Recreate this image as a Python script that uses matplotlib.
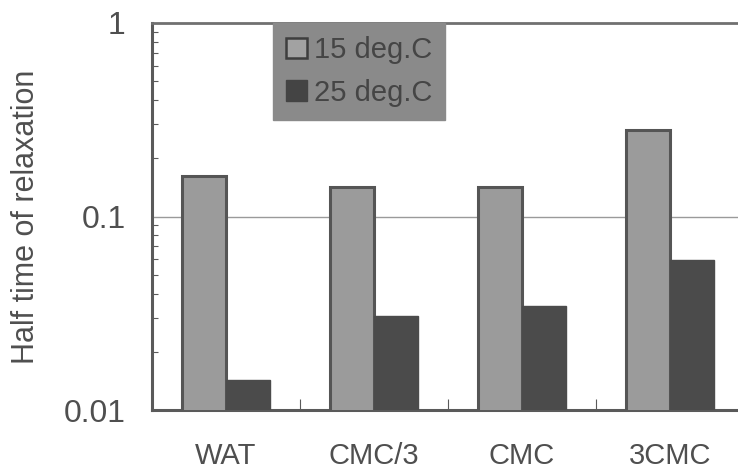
import matplotlib
matplotlib.use('Agg')
import matplotlib.pyplot as plt
import numpy as np
from matplotlib.patches import Patch
from matplotlib.ticker import FixedLocator, LogLocator, NullFormatter

categories = ['WAT', 'CMC/3', 'CMC', '3CMC']
t15 = [0.162, 0.142, 0.142, 0.28]
t25 = [0.0143, 0.0306, 0.0345, 0.0596]
series_labels = ['15 deg.C', '25 deg.C']

plt.rcParams['font.family'] = ['Liberation Sans', 'DejaVu Sans']
txt = '#4f4f4f'
axc = '#5a5a5a'

fig = plt.figure(figsize=(7.38, 4.74), dpi=100)
# axes runs a little past the right edge of the figure
ax = fig.add_axes([152 / 738, 64 / 474, 592 / 738, 387 / 474])

x = np.arange(len(categories))
w = 0.297
ax.bar(x - w / 2, t15, w, color='#9b9b9b', edgecolor='#555555', linewidth=2.2, zorder=3)
ax.bar(x + w / 2, t25, w, color='#4b4b4b', edgecolor='#4b4b4b', linewidth=1, zorder=3)

ax.set_yscale('log')
ax.set_ylim(0.01, 1)
ax.set_xlim(-0.5, 3.5)
ax.yaxis.set_major_locator(FixedLocator([0.01, 0.1, 1]))
ax.set_yticklabels(['0.01', '0.1', '1'])
ax.yaxis.set_minor_locator(LogLocator(base=10, subs=np.arange(2, 10)))
ax.yaxis.set_minor_formatter(NullFormatter())
ax.tick_params(axis='y', which='major', length=0, pad=19, labelsize=23, labelcolor=txt)
ax.tick_params(axis='y', which='minor', direction='in', length=4, width=0.8, color=axc)

ax.set_xticks(x)
ax.set_xticklabels(categories)
ax.tick_params(axis='x', which='major', length=0, pad=23, labelsize=21, labelcolor=txt)
ax.set_xticks([0.5, 1.5, 2.5], minor=True)
ax.tick_params(axis='x', which='minor', direction='in', length=8, width=0.8, color=axc)

ax.axhline(0.1, color='#9a9a9a', linewidth=1, zorder=1)

for s in ['left', 'bottom']:
    ax.spines[s].set_color(axc)
    ax.spines[s].set_linewidth(2.2)
ax.spines['top'].set_color('#707070')
ax.spines['top'].set_linewidth(2)
ax.spines['right'].set_visible(False)

ax.set_ylabel('Half time of relaxation', fontsize=22, color=txt, labelpad=16)

handles = [Patch(facecolor='#a2a2a2', edgecolor='#3e3e3e', linewidth=1.8),
           Patch(facecolor='#444444', edgecolor='#444444')]
leg = ax.legend(handles, series_labels, loc='upper left', bbox_to_anchor=(121 / 592, 1.0),
                frameon=True, fancybox=False, fontsize=21, handlelength=0.7,
                handleheight=0.7, handletextpad=0.25, labelspacing=0.5,
                borderpad=0.45, borderaxespad=0)
leg.get_frame().set_facecolor('#8a8a8a')
leg.get_frame().set_edgecolor('#8a8a8a')
leg.get_frame().set_alpha(1)
for t in leg.get_texts():
    t.set_color('#454545')

fig.savefig('out.png', dpi=100)
